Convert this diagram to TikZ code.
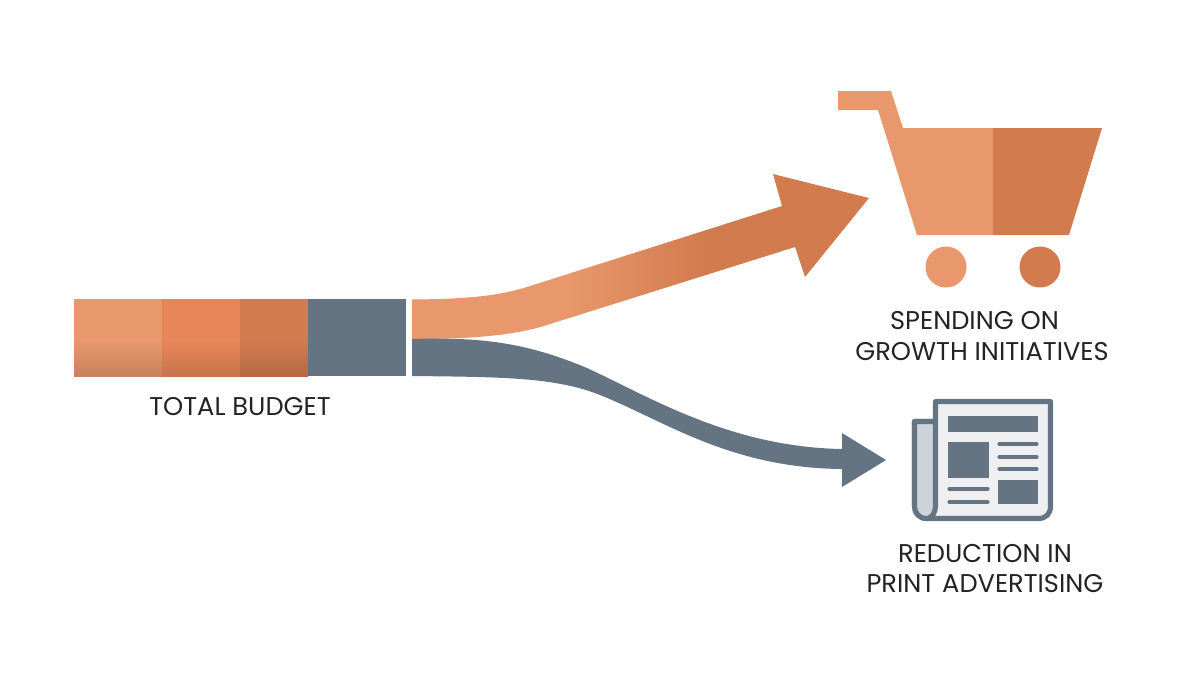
\documentclass[tikz,border=0pt]{standalone}
\usepackage{fontspec}
\setmainfont{Poppins}
\usetikzlibrary{positioning}

\definecolor{bandlight}{HTML}{E8986C}
\definecolor{bandmid}{HTML}{E78658}
\definecolor{banddark}{HTML}{D27B4F}
\definecolor{slate}{HTML}{647483}
\definecolor{pagegray}{HTML}{EDEFF0}
\definecolor{flapgray}{HTML}{CDD4D9}
\definecolor{inkgray}{HTML}{232323}

\pgfdeclarehorizontalshading{growthshade}{100bp}{color(0bp)=(bandlight); color(42bp)=(bandlight); color(57bp)=(banddark); color(100bp)=(banddark)}

\tikzset{
  caption/.style={text=inkgray, align=center, inner sep=0pt, font=\fontsize{7.3}{8.55}\selectfont},
  newsline/.style={draw=slate, line width=1.45pt, line join=round},
  newsrow/.style={draw=slate, line width=1.2pt, line cap=round},
}

\begin{document}
\begin{tikzpicture}[x=0.01cm, y=-0.01cm]

\useasboundingbox (0, 0) rectangle (1200, 675);

\fill [bandlight] (74, 299) rectangle (162, 376);
\fill [bandmid] (162, 299) rectangle (240, 376);
\fill [banddark] (240, 299) rectangle (308, 376);
\fill [slate] (308, 299) rectangle (406, 376);
\shade [top color=bandlight, bottom color=bandlight!86!black] (74, 340) rectangle (162, 376);
\shade [top color=bandmid, bottom color=bandmid!86!black] (162, 340) rectangle (240, 376);
\shade [top color=banddark, bottom color=banddark!86!black] (240, 340) rectangle (308, 376);

\node [caption] (budget) at (240, 407) {TOTAL BUDGET};

\shade [shading=growthshade] (412, 299.5) .. controls (460, 299) and (495, 297) .. (527, 287)
  -- (782, 206) -- (773, 174) -- (869, 198) -- (805, 277) -- (795, 247) -- (547, 325)
  .. controls (510, 337) and (460, 339) .. (412, 339) -- cycle;

\fill [slate] (412, 339) .. controls (480, 337) and (525, 342) .. (587, 368)
  .. controls (650, 397) and (730, 447) .. (842, 449)
  -- (842, 433) -- (886, 460) -- (842, 487) -- (842, 469)
  .. controls (730, 468) and (665, 421) .. (600, 395)
  .. controls (555, 377) and (500, 377) .. (412, 376) -- cycle;

\fill [bandlight] (838, 91) -- (891, 91) -- (903, 128) -- (993, 128) -- (993, 235) -- (917, 235) -- (878, 110) -- (838, 110) -- cycle;
\fill [banddark] (993, 128) -- (1102, 128) -- (1069, 235) -- (993, 235) -- cycle;
\fill [bandlight] (946, 267) circle [radius=0.205cm];
\fill [banddark] (1040, 267) circle [radius=0.205cm];

\node [caption] (growth) at (982, 336) {SPENDING ON\hspace*{0.15cm}\\GROWTH INITIATIVES};

\draw [newsline, fill=pagegray] (935.5, 401.5) -- (1050.5, 401.5) -- (1050.5, 506)
  .. controls (1050.5, 514) and (1046, 518.5) .. (1038, 518.5) -- (927, 518.5)
  .. controls (919, 518.5) and (914.5, 513) .. (914.5, 506) -- (914.5, 421.5) -- (935.5, 421.5) -- cycle;
\draw [newsline, fill=flapgray] (935.5, 421.5) -- (914.5, 421.5) -- (914.5, 506)
  .. controls (914.5, 513) and (919, 518.5) .. (927, 518.5)
  .. controls (932, 518.5) and (935.5, 512) .. (935.5, 506) -- cycle;

\fill [slate] (948, 416) rectangle (1038, 432);
\fill [slate] (948, 442) rectangle (989, 478);
\fill [slate] (998, 480) rectangle (1038, 504);
\foreach \rowy in {444, 457, 469}
  \draw [newsrow] (999.5, \rowy) -- (1036.5, \rowy);
\foreach \rowy in {489, 502}
  \draw [newsrow] (949.5, \rowy) -- (987.5, \rowy);

\node [caption] (print) at (985, 568.5) {REDUCTION IN\\PRINT ADVERTISING};

\end{tikzpicture}
\end{document}
